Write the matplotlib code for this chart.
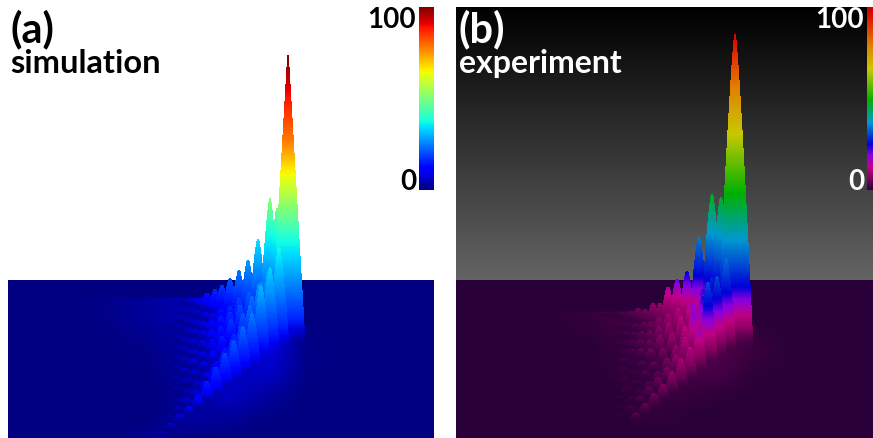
import matplotlib
matplotlib.use('Agg')
import matplotlib.pyplot as plt
import numpy as np
from matplotlib.cm import ScalarMappable
from matplotlib.colors import LinearSegmentedColormap, Normalize
from matplotlib.font_manager import FontProperties

# peak values in percent, one list per row of peaks, back row first
sim_values = [
    [100, 49, 52, 35, 28, 24, 21, 18, 16, 14, 12, 9, 5, 1],
    [38, 30, 26, 22, 19, 16, 14, 12, 10, 8, 6, 3],
    [34, 28, 24, 20, 17, 15, 13, 11, 9, 7, 4],
    [31, 24, 21, 18, 15, 13, 11, 9, 7, 5, 2],
    [25, 20, 17, 15, 13, 11, 9, 7, 5, 3],
    [23, 18, 15, 13, 11, 9, 7, 5, 3],
    [21, 16, 13, 11, 9, 7, 5, 3],
    [19, 14, 11, 9, 7, 5, 3],
    [17, 12, 9, 7, 5, 3],
    [15, 10, 7, 5, 3],
    [13, 8, 5, 3],
    [11, 6, 3],
    [9, 4],
    [7, 3],
    [5],
    [2],
]
exp_values = [
    [98, 47, 47, 35, 25.5, 21, 16, 8.5, 8, 5.5, 5, 3.6, 2.6, 1.5, 1],
    [34, 28, 24, 16, 12, 9, 7, 5, 4, 3, 2, 1],
    [31, 25, 20, 13, 9, 7, 5, 4, 3, 2, 1],
    [31, 20, 13, 9, 7, 5, 4, 3, 2, 1],
    [18, 12, 8, 6, 5, 4, 3, 2, 1, 1],
    [12, 8, 6, 4, 3, 2, 2, 1],
    [10, 6, 4, 3, 2, 2, 1],
    [8, 5, 3, 2, 2, 1],
    [6, 4, 2, 2, 1],
    [5, 3, 2, 1],
    [4, 2, 1],
    [3, 1],
]

# where the back row peaks stand
sim_col_x = [288, 277, 270, 258, 248, 239, 230, 222, 215, 207, 200, 193, 187, 180]
exp_col_x = [735, 721, 712, 699, 687, 677, 668, 660, 653, 645, 638, 631, 623, 615, 607]

# value -> height on the picture
sim_lev_v = [0, 12, 38, 65, 78, 89, 100]
sim_lev_h = [0, 12, 105, 172, 205, 248, 290]
exp_lev_v = [0, 10, 25, 37, 49, 66, 79, 100]
exp_lev_h = [0, 33, 66, 113, 160, 220, 266, 325]

# low glow on the floor under the peaks
sim_floor_x = [70, 110, 150, 190, 230, 270, 305, 350]
sim_floor_y = [298, 320, 345, 370, 395, 420, 438]
sim_floor = [
    [0.5, 1.5, 3, 5, 8, 10, 0, 0],
    [0, 1, 2.5, 4.5, 7, 9, 0, 0],
    [0, 0, 1.5, 3.5, 6, 9, 1, 0],
    [0, 0, 0.5, 2.5, 6, 7, 1, 0],
    [0, 0, 0, 2, 6, 3, 0, 0],
    [0, 0, 0, 3, 2, 0, 0, 0],
    [0, 0, 2, 0, 0, 0, 0, 0],
]
exp_floor_x = [560, 590, 620, 650, 680, 710, 755, 790]
exp_floor_y = [312, 330, 350, 370, 390, 410, 430]
exp_floor = [
    [0.5, 1, 2, 3, 3, 4, 0, 0],
    [0, 0.5, 1.5, 2.5, 3, 4, 0.5, 0],
    [0, 0, 1, 2, 3, 3.5, 1.5, 0],
    [0, 0, 0.5, 1.5, 2.5, 2.5, 0.5, 0],
    [0, 0, 0.2, 1, 1.5, 0.8, 0, 0],
    [0, 0, 0, 1, 0.5, 0, 0, 0],
    [0, 0, 0, 0, 0, 0, 0, 0],
]

exp_cmap = LinearSegmentedColormap.from_list('exp', [
    (0.0, '#2a0038'), (0.06, '#80005e'), (0.12, '#c00080'), (0.19, '#8a00e0'),
    (0.25, '#0000d8'), (0.37, '#0098d0'), (0.49, '#00b000'), (0.66, '#c8c800'),
    (0.79, '#e08000'), (0.95, '#e01000'), (1.0, '#c80000')])

bold = FontProperties(family='Lato', weight='bold')


def draw_peak(ax, x, ground, value, lev_v, lev_h, cmap, sharp):
    height = np.interp(value, lev_v, lev_h)
    n = max(int(height), 2)
    h = np.linspace(0, height, n + 1)
    v = np.interp(h, lev_h, lev_v)
    p = 0.6 + sharp * height / 290
    half = (6.5 + height / 28) * (1 - h / height) ** p + 0.8
    X = np.column_stack([x - half, x + half])
    Y = np.column_stack([ground - h, ground - h])
    C = ((v[:-1] + v[1:]) / 2).reshape(-1, 1)
    fade = min(0.3 * height, 25)
    alpha = np.clip((h[:-1] + h[1:]) / 2 / fade, 0, 1).reshape(-1, 1)
    ax.pcolormesh(X, Y, C, cmap=cmap, vmin=0, vmax=100, shading='flat', alpha=alpha)


def draw_panel(ax, values, col_x, lev_v, lev_h, cmap, ground0, slope, step_x, step_y, sharp):
    for j, row in enumerate(values):
        for i in range(len(row) - 1, -1, -1):
            x = col_x[i] + j * step_x
            ground = ground0 - slope * (col_x[0] - col_x[i]) + j * step_y
            draw_peak(ax, x, ground, row[i], lev_v, lev_h, cmap, sharp)


def colorbar(fig, box, cmap, color):
    cax = fig.add_axes(box)
    cb = fig.colorbar(ScalarMappable(Normalize(0, 100), cmap), cax=cax, ticks=[0, 100])
    cb.outline.set_visible(False)
    cax.yaxis.set_ticks_position('left')
    cax.tick_params(length=0, pad=2, labelcolor=color)
    for lab, va in zip(cax.get_yticklabels(), ['baseline', 'top']):
        lab.set_fontproperties(bold)
        lab.set_fontsize(20)
        lab.set_va(va)


W, H = 873, 438
fig = plt.figure(figsize=(W / 100, H / 100), dpi=100, facecolor='white')

# (a) simulation
ax1 = fig.add_axes([8 / W, 0, 426 / W, 431 / H])
ax1.axhspan(280, 438, color=plt.get_cmap('jet')(0), lw=0)
ax1.pcolormesh(sim_floor_x, sim_floor_y, sim_floor, cmap='jet', vmin=0, vmax=100, shading='gouraud')
draw_panel(ax1, sim_values, sim_col_x, sim_lev_v, sim_lev_h, 'jet', 345, 0.4, -9, 6.5, 0.4)
ax1.set_xlim(8, 434)
ax1.set_ylim(438, 7)
ax1.axis('off')
ax1.text(10, 29, '(a)', fontproperties=bold, fontsize=30, va='center')
ax1.text(10, 63, 'simulation', fontproperties=bold, fontsize=23.5, va='center')

# (b) experiment
ax2 = fig.add_axes([456 / W, 0, 417 / W, 431 / H])
grad = np.linspace(0, 1, 256).reshape(-1, 1)
ax2.imshow(grad, extent=[456, 873, 280, 7], cmap=LinearSegmentedColormap.from_list(
    'bg', ['#000000', '#646464']), origin='upper', aspect='auto')
ax2.axhspan(280, 438, color=exp_cmap(0), lw=0)
ax2.pcolormesh(exp_floor_x, exp_floor_y, exp_floor, cmap=exp_cmap, vmin=0, vmax=100, shading='gouraud')
draw_panel(ax2, exp_values, exp_col_x, exp_lev_v, exp_lev_h, exp_cmap, 353, 0.29, -9, 6.3, 0.2)
ax2.set_xlim(456, 873)
ax2.set_ylim(438, 7)
ax2.axis('off')
ax2.text(458, 29, '(b)', fontproperties=bold, fontsize=30, va='center', color='white')
ax2.text(459, 63, 'experiment', fontproperties=bold, fontsize=23, va='center', color='white')

colorbar(fig, [419 / W, (H - 190) / H, 15 / W, 183 / H], 'jet', 'black')
colorbar(fig, [867 / W, (H - 190) / H, 6 / W, 183 / H], exp_cmap, 'white')

fig.savefig('out.png', dpi=100)
